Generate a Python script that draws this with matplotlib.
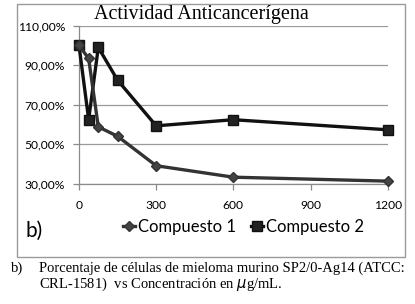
import matplotlib
matplotlib.use("Agg")
import matplotlib.pyplot as plt
from matplotlib.patches import Rectangle
from matplotlib.lines import Line2D

# Data
conc = [0, 37.5, 75, 150, 300, 600, 1200]
compuesto1 = [100, 93.4, 58.8, 54.0, 39.1, 33.3, 31.3]
compuesto2 = [100, 62.5, 99.0, 82.4, 59.3, 62.4, 57.3]
series_names = ["Compuesto 1", "Compuesto 2"]
xticks = [0, 300, 600, 900, 1200]
yticks = [30, 50, 70, 90, 110]
title = "Actividad Anticancerígena"
caption1 = "Porcentaje de células de mieloma murino SP2/0-Ag14 (ATCC:"
caption2 = "CRL-1581)  vs Concentración en $\\mu$g/mL."

W, H = 415, 304
fig = plt.figure(figsize=(W / 100, H / 100), dpi=100)
fig.patch.set_facecolor("white")

def fx(px):
    return px / W

def fy(py):
    return 1 - py / H

# outer chart border
fig.add_artist(Rectangle((fx(17), fy(257)), (405 - 17) / W, (257 - 4) / H,
                         transform=fig.transFigure, fill=False,
                         edgecolor="#9a9a9a", linewidth=1.0))

ax = fig.add_axes([fx(79), fy(183.7), (387.7 - 79) / W, (183.7 - 25.7) / H])
ax.set_xlim(0, 1200)
ax.set_ylim(30, 110)
ax.set_xticks(xticks)
ax.set_yticks(yticks)
ax.set_xticklabels([str(t) for t in xticks])
ax.set_yticklabels([f"{t},00%" for t in yticks])
for s in ["top", "right"]:
    ax.spines[s].set_visible(False)
for s in ["left", "bottom"]:
    ax.spines[s].set_color("#8a8a8a")
    ax.spines[s].set_linewidth(0.9)
ax.grid(axis="y", color="#9a9a9a", linewidth=0.9)
ax.set_axisbelow(True)
ax.tick_params(axis="both", colors="#8a8a8a", length=4, width=0.9,
               labelcolor="black", labelsize=8.7, pad=3)
for lab in ax.get_xticklabels() + ax.get_yticklabels():
    lab.set_fontfamily("Lato")
ax.tick_params(axis="x", pad=8)
ax.tick_params(axis="y", pad=6)

ax.plot(conc, compuesto2, color="#111111", linewidth=2.4, marker="s",
        markersize=6.5, markerfacecolor="#222222", markeredgecolor="#111111",
        clip_on=False, zorder=3)
ax.plot(conc, compuesto1, color="#333333", linewidth=2.4, marker="D",
        markersize=5, markerfacecolor="#444444", markeredgecolor="#333333",
        clip_on=False, zorder=4)

fig.text(fx(201), fy(15), title, ha="center", va="center",
         family="Liberation Serif", fontsize=14.5)

# legend
h1 = Line2D([], [], color="#333333", linewidth=2.4, marker="D", markersize=5,
            markerfacecolor="#444444", markeredgecolor="#333333")
h2 = Line2D([], [], color="#111111", linewidth=2.4, marker="s", markersize=6.5,
            markerfacecolor="#222222", markeredgecolor="#111111")
leg = fig.legend([h1, h2], series_names, loc="center", bbox_to_anchor=(fx(243), fy(227)),
                 ncol=2, frameon=False, handlelength=0.75, handletextpad=0.15,
                 columnspacing=0.9, prop={"family": "Lato", "size": 12})

fig.text(fx(25), fy(237), "b)", ha="left", va="baseline", family="Lato", fontsize=15)

fig.text(fx(11), fy(272), "b)", ha="left", va="baseline", family="Liberation Serif", fontsize=10.5)
fig.text(fx(39), fy(272), caption1, ha="left", va="baseline", family="Liberation Serif", fontsize=10.5)
fig.text(fx(39), fy(288), caption2, ha="left", va="baseline", family="Liberation Serif", fontsize=10.5)

fig.savefig("out.png", dpi=100)
